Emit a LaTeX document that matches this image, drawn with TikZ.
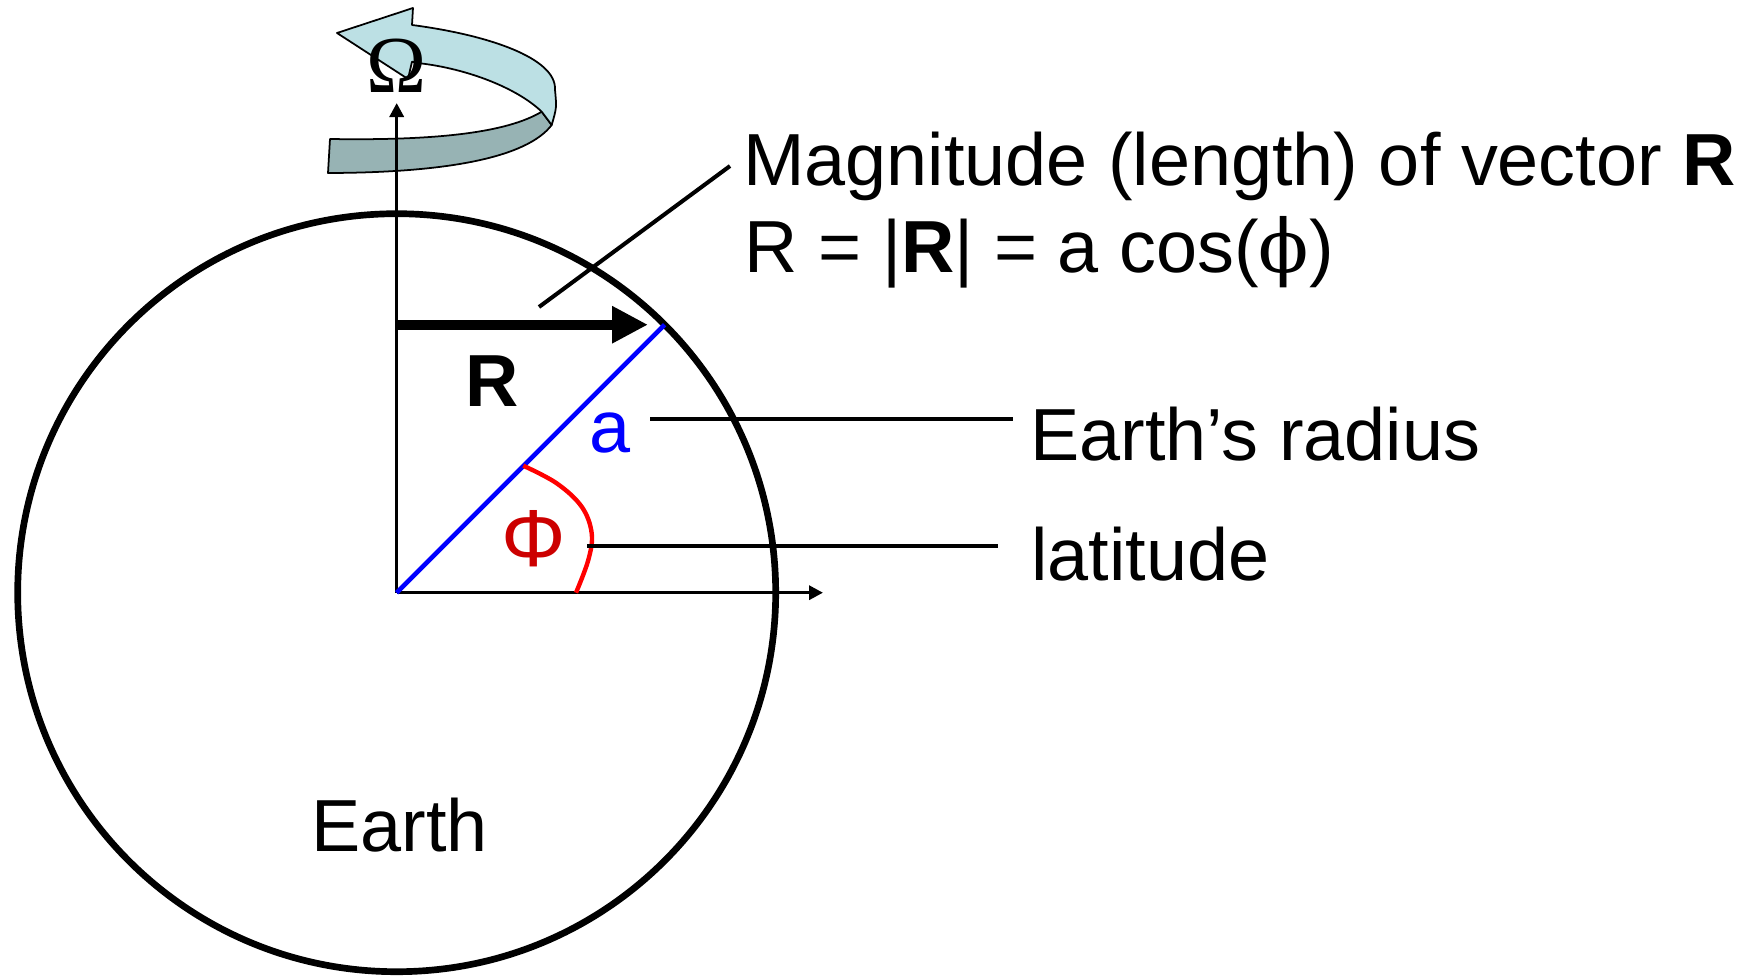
\documentclass[tikz,border=0pt]{standalone}
\usepackage{fontspec}
\setmainfont{Liberation Sans}
\newfontfamily\omegafont{Liberation Serif}
\newfontfamily\phifont{DejaVu Serif}
\usetikzlibrary{arrows.meta, math}
\definecolor{ribbonlight}{RGB}{188,224,228}
\definecolor{ribbondark}{RGB}{151,179,180}
\definecolor{phired}{RGB}{204,0,0}

\begin{document}
\begin{tikzpicture}[
  lbl/.style={font=\fontsize{21}{25}\selectfont, inner sep=0pt, anchor=base},
  leader/.style={line width=1.15pt},
  axis/.style={line width=0.95pt, -{Triangle[length=1.4mm,width=1.4mm]}},
  ribbon/.style={draw=black, line width=0.5pt, line join=round}
]

\tikzmath{
\Rearth = 3.79;
\lat = 45;
\Ry = \Rearth*sin(\lat);
}

\useasboundingbox (-3.967,-3.823) rectangle (13.653,5.927);

%Earth
\coordinate (O) at (0,0);
\draw[line width=1.9pt] (O) circle (\Rearth);
\node[lbl] (earth) at (0.03,-2.583) {Earth};

%Rotation ribbon
\filldraw[ribbon,fill=ribbondark] (-0.667,4.537) .. controls (0.4,4.52) and (1.1,4.6) .. (1.45,4.81)
  -- (1.55,4.677) .. controls (1.3,4.35) and (0.5,4.2) .. (-0.687,4.197) -- cycle;
\filldraw[ribbon,fill=ribbonlight] (0.153,5.677) .. controls (0.9,5.58) and (1.6,5.35) .. (1.583,5.03)
  .. controls (1.6,4.85) .. (1.55,4.677) -- (1.45,4.81)
  .. controls (1.2,5.05) and (0.7,5.24) .. (0.233,5.294) -- (0.153,5.31) -- (0.113,5.137)
  -- (-0.597,5.597) -- (0.163,5.847) -- cycle;
\node[lbl, font=\omegafont\fontsize{23}{27}\selectfont] (omega) at (0,5.0) {Ω};

%Axes
\coordinate (ztip) at (0,4.897);
\coordinate (xtip) at (4.263,0);
\draw[axis] (O) -- (ztip);
\draw[axis] (O) -- (xtip);

%Radius and vector R
\coordinate (P) at (\lat:\Rearth);
\draw[color=blue, line width=1.3pt] (O) -- (P);
\coordinate (Rs) at (0,\Ry);
\coordinate (Rt) at (2.513,\Ry);
\draw[line width=2.85pt, -{Triangle[length=3.6mm,width=3.5mm]}] (Rs) -- (Rt);

%Latitude angle
\draw[color=red, line width=1.25pt] plot [smooth,tension=0.6] coordinates {(1.266,1.270) (1.600,1.094) (1.850,0.860) (1.950,0.594) (1.916,0.327) (1.793,0.0)};

\node[lbl, font=\fontsize{21}{25}\selectfont\bfseries] (Rlabel) at (0.958,1.867) {R};
\node[lbl, text=blue] (alabel) at (2.133,1.40) {a};
\node[lbl, text=phired, font=\fontsize{23}{27}\selectfont] (philabel) at (1.366,0.26) {Φ};

%Leaders and texts
\coordinate (astart) at (2.533,1.737);
\coordinate (aend) at (6.163,1.737);
\draw[leader] (astart) -- (aend);
\node[lbl, anchor=base west] (radtext) at (6.33,1.327) {Earth’s radius};

\coordinate (latstart) at (1.903,0.467);
\coordinate (latend) at (6.013,0.467);
\draw[leader] (latstart) -- (latend);
\node[lbl, anchor=base west] (lattext) at (6.34,0.127) {latitude};

\coordinate (magstart) at (1.423,2.857);
\coordinate (magend) at (3.333,4.267);
\draw[leader] (magstart) -- (magend);
\node[lbl, anchor=base west] (magtext) at (3.458,4.077) {Magnitude (length) of vector \textbf{R}};
\node[lbl, anchor=base west] (formtext) at (3.473,3.207) {R = |\textbf{R}| = a cos({\phifont ϕ})};

\end{tikzpicture}
\end{document}
